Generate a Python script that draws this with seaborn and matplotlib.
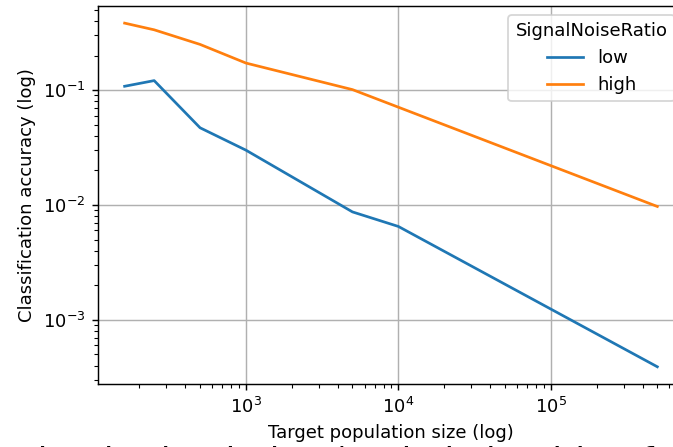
import pandas as pd
import matplotlib
matplotlib.use('Agg')
import matplotlib.pyplot as plt
import seaborn as sns

# Values (log-log)
pop_size = [160, 250, 500, 1000, 5000, 10000, 500000]
acc_low = [0.108, 0.121, 0.047, 0.030, 0.0087, 0.0065, 0.00039]
acc_high = [0.383, 0.335, 0.25, 0.172, 0.101, 0.071, 0.0097]
snr_levels = ['low', 'high']

data = pd.DataFrame({
    'pop_size': pop_size * 2,
    'accuracy': acc_low + acc_high,
    'SignalNoiseRatio': ['low'] * len(pop_size) + ['high'] * len(pop_size),
})

fig = plt.figure(figsize=(673 / 130, 447 / 130), dpi=130)
# axes run a bit past the right edge, as in the cropped reference
ax = fig.add_axes([0.1456, 0.141, 0.8707, 0.8457])

sns.lineplot(data=data, x='pop_size', y='accuracy', hue='SignalNoiseRatio',
             hue_order=snr_levels, ax=ax)
ax.set_xscale('log')
ax.set_yscale('log')
ax.grid(True)
ax.set_xlabel('Target population size (log)')
ax.set_ylabel('Classification accuracy (log)')
sns.move_legend(ax, 'upper right', title='SignalNoiseRatio')

# caption of the page below, mostly cut off by the crop
fig.text(0.028, 1 / 447, 'classic simulation (verbal algorithm for',
         fontsize=19, va='top', ha='left')

fig.savefig('out.png', dpi=130)
